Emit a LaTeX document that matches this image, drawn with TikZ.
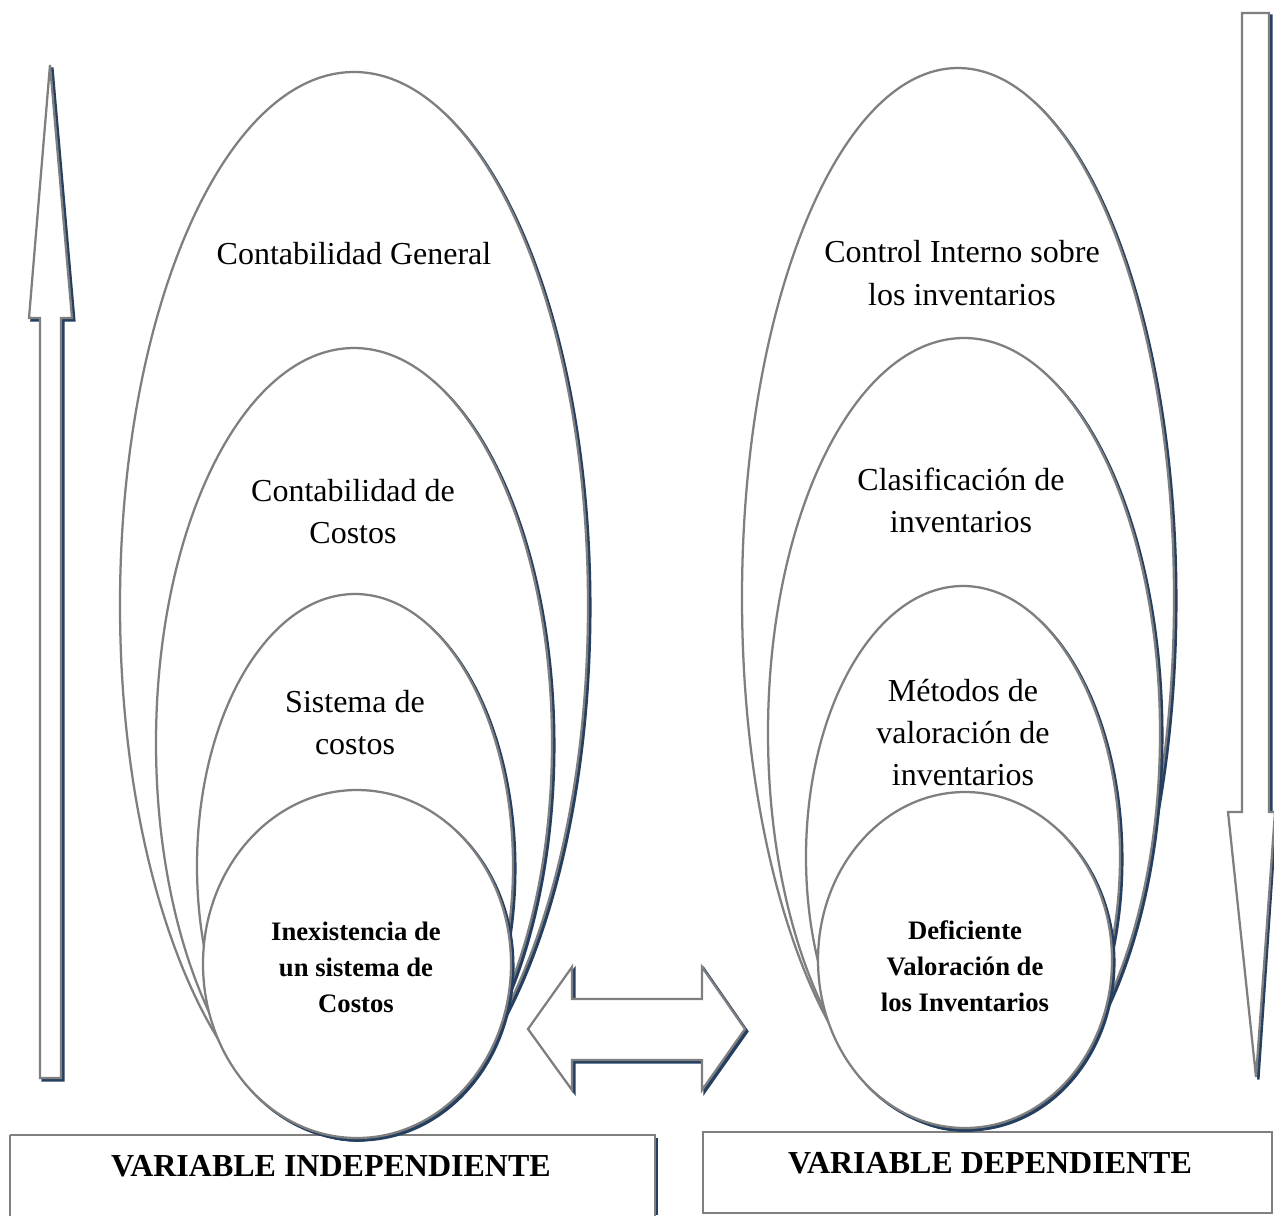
\documentclass[tikz,border=0pt]{standalone}
\usepackage{fontspec}
\setmainfont{Liberation Serif}
\definecolor{ln}{HTML}{7F7F7F}
\definecolor{sh}{HTML}{243F60}
\tikzset{
  shp/.style={draw=ln, line width=1.7pt, fill=white, line join=miter},
  shd/.style={draw=sh, fill=sh, line width=1.7pt, xshift=1.8pt, yshift=-1.8pt},
  reg/.style={font=\fontsize{24}{31.5}\selectfont, align=center, inner sep=0pt},
  regw/.style={font=\fontsize{24}{32.5}\selectfont, align=center, inner sep=0pt},
  bld/.style={font=\fontsize{20}{27}\selectfont\bfseries, align=center, inner sep=0pt},
  ttl/.style={font=\fontsize{24}{28}\selectfont\bfseries, inner sep=0pt},
  boxs/.style={draw=ln, line width=1.7pt, fill=white}
}
\newcommand\myoval[4]{%
  \fill[shd] (#1,#2) ellipse [x radius={#3*0.75pt}, y radius={#4*0.75pt}];
  \draw[shp] (#1,#2) ellipse [x radius={#3*0.75pt}, y radius={#4*0.75pt}];
}
\begin{document}
\begin{tikzpicture}[x=0.75pt,y=-0.75pt]
\useasboundingbox (0,0) rectangle (1274,1215);
\fill[white] (0,0) rectangle (1274,1215);

% bottom boxes
\draw[boxs] (10,1135) -- (655,1135) -- (655,1230) (10,1230) -- (10,1135);
\draw[sh, line width=1.2pt] (657,1138) -- (657,1215);
\draw[boxs] (703,1132) rectangle (1272,1213);

% left ellipses
\myoval{354}{605}{234}{533}
\myoval{354}{743}{198}{395}
\myoval{355}{866}{158}{272}
\myoval{357}{964}{154}{174}

% right ellipses
\myoval{958}{598}{216}{530}
\myoval{964}{733}{196}{395}
\myoval{963}{857}{157}{271}
\myoval{965}{960}{147}{168}

% left up arrow
\fill[shd] (50,65) -- (72,318) -- (61,318) -- (61,1078) -- (40,1078) -- (40,318) -- (29,318) -- cycle;
\draw[shp] (50,65) -- (72,318) -- (61,318) -- (61,1078) -- (40,1078) -- (40,318) -- (29,318) -- cycle;

% right down arrow
\fill[shd] (1242,13) -- (1269,13) -- (1269,812) -- (1274,812) -- (1256,1077) -- (1228,812) -- (1242,812) -- cycle;
\draw[shp] (1242,13) -- (1269,13) -- (1269,812) -- (1275,812) -- (1256,1077) -- (1228,812) -- (1242,812) -- cycle;

% double arrow
\fill[shd] (528,1029) -- (572,967) -- (572,999) -- (702,999) -- (702,967) -- (745,1029) -- (702,1090) -- (702,1060) -- (572,1060) -- (572,1090) -- cycle;
\draw[shp] (528,1029) -- (572,967) -- (572,999) -- (702,999) -- (702,967) -- (745,1029) -- (702,1090) -- (702,1060) -- (572,1060) -- (572,1090) -- cycle;

% texts left
\node[reg] (cg) at (354,254) {Contabilidad General};
\node[reg] (cc) at (353,512) {Contabilidad de\\Costos};
\node[reg] (sc) at (355,723) {Sistema de\\costos};
\node[bld] (inx) at (356,967) {Inexistencia de\\un sistema de\\Costos};

% texts right
\node[regw] (ci) at (962,273) {Control Interno sobre\\los inventarios};
\node[reg] (cl) at (961,500) {Clasificación de\\inventarios};
\node[reg] (mv) at (963,733) {Métodos de\\valoración de\\inventarios};
\node[bld] (dv) at (965,966) {Deficiente\\Valoración de\\los Inventarios};

% titles
\node[ttl] (vi) at (331,1166) {VARIABLE INDEPENDIENTE};
\node[ttl] (vd) at (990,1163) {VARIABLE DEPENDIENTE};
\end{tikzpicture}
\end{document}
